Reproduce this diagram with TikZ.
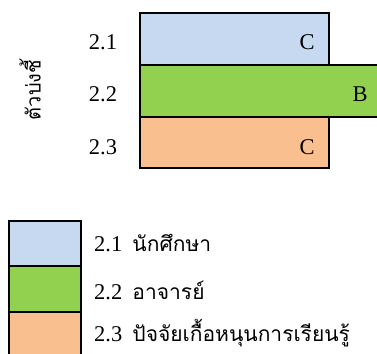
\documentclass[tikz,border=0pt]{standalone}
\usepackage{fontspec}
\setmainfont{Liberation Serif}
\newfontfamily\thaifont[Script=Thai]{Loma}
\definecolor{cblue}{HTML}{C6D9F1}
\definecolor{cgreen}{HTML}{92D050}
\definecolor{corange}{HTML}{F9BF8F}
\begin{document}
\begin{tikzpicture}[x=1pt,y=-1pt,
  bar/.style={draw=black,line width=1.4pt},
  num/.style={font=\fontsize{22.5}{24}\selectfont,inner sep=0pt},
  leg/.style={font=\fontsize{22.5}{24}\selectfont,inner sep=0pt,anchor=west}]
\useasboundingbox (0,0) rectangle (377,353);
% bars
\draw[bar,fill=cblue] (140,13) rectangle (329,65);
\draw[bar,fill=corange] (140,117) rectangle (329,168);
\draw[bar,fill=cgreen] (140,65) rectangle (385,117);
\node[num] (c1) at (307,42) {C};
\node[num] (b2) at (360,94) {B};
\node[num] (c3) at (307,147) {C};
% category labels
\node[num] (l1) at (103,42) {2.1};
\node[num] (l2) at (103,94) {2.2};
\node[num] (l3) at (103,147) {2.3};
\node[inner sep=0pt,rotate=90,font=\thaifont\fontsize{20}{22}\selectfont] (ax) at (30,90) {ตัวบ่งชี้};
% legend
\draw[bar,fill=cblue] (9,221) rectangle (81,266);
\draw[bar,fill=cgreen] (9,266) rectangle (81,312);
\draw[bar,fill=corange] (9,312) rectangle (81,360);
\node[leg] (g1) at (94,243) {2.1\hspace{0.45em}{\thaifont\fontsize{21}{23}\selectfont นักศึกษา}};
\node[leg] (g2) at (94,290) {2.2\hspace{0.45em}{\thaifont\fontsize{21}{23}\selectfont อาจารย์}};
\node[leg] (g3) at (94,333) {2.3\hspace{0.45em}{\thaifont\fontsize{21}{23}\selectfont ปัจจัยเกื้อหนุนการเรียนรู้}};
\end{tikzpicture}
\end{document}
